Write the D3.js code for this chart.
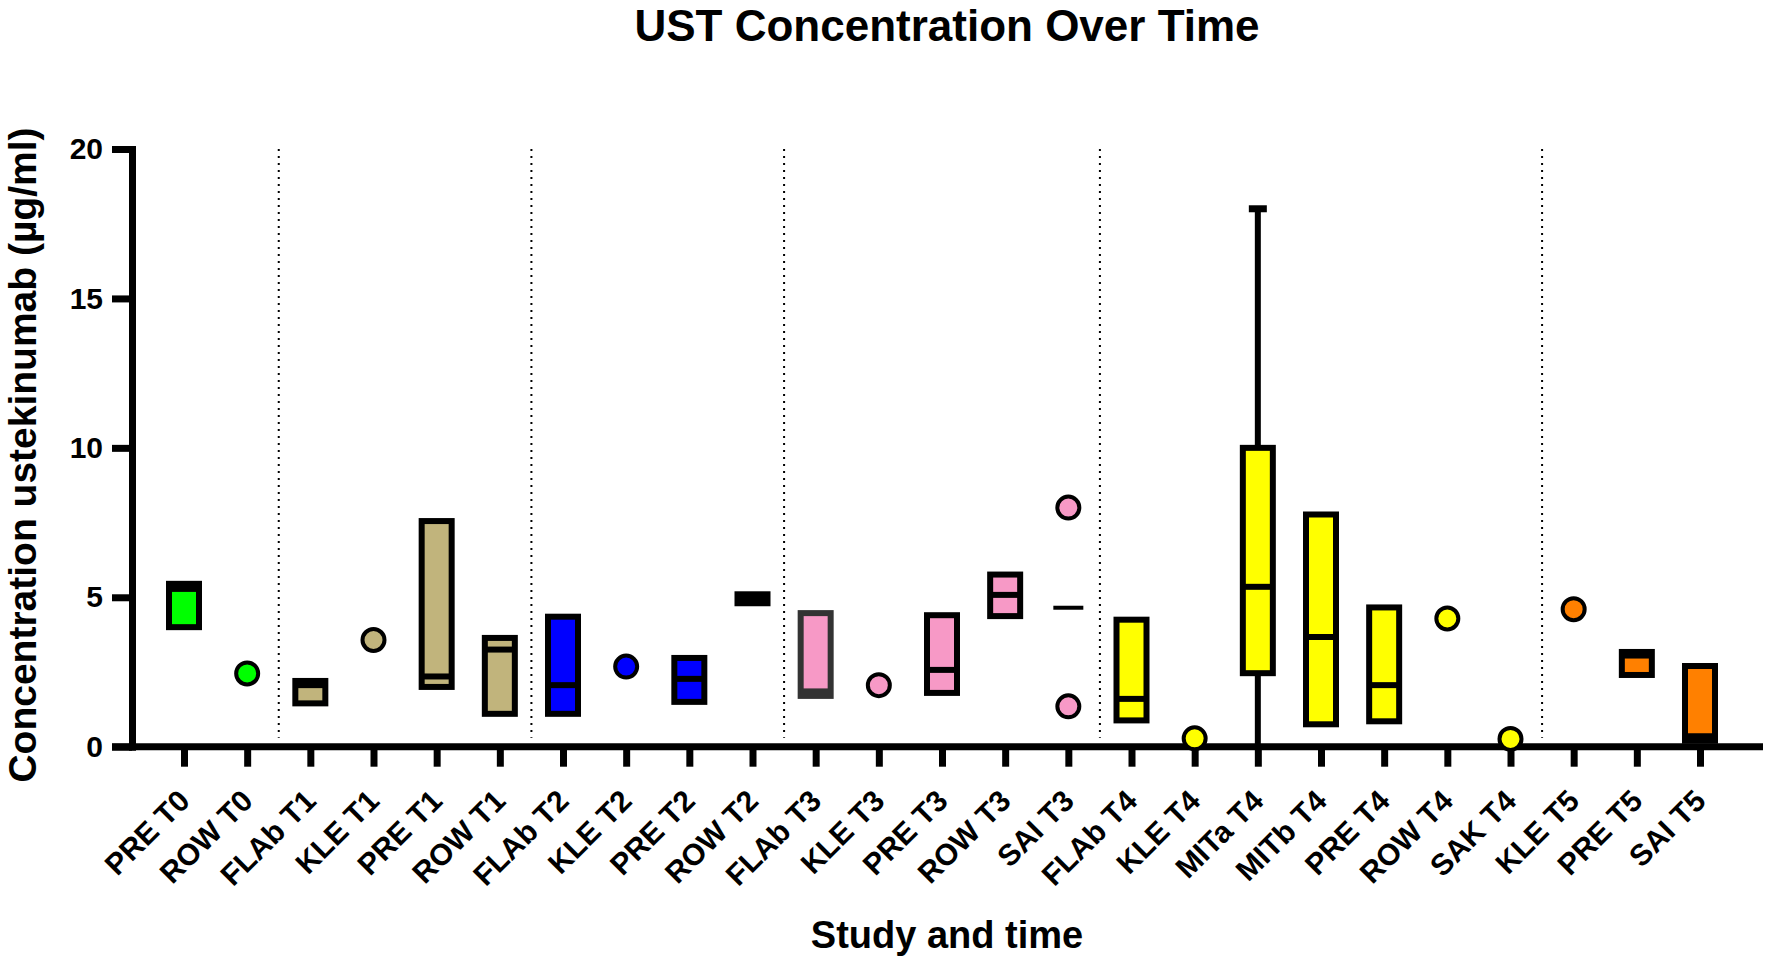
<!DOCTYPE html>
<html>
<head>
<meta charset="utf-8">
<script src="https://cdn.jsdelivr.net/npm/d3@7"></script>
<style>
  body { margin: 0; background: #fff; }
  svg { display: block; font-family: "Liberation Sans", Arial, Helvetica, sans-serif; }
</style>
</head>
<body>
<div id="chart"></div>
<script>
// categories (study + time point)
const categories = ["PRE T0", "ROW T0", "FLAb T1", "KLE T1", "PRE T1", "ROW T1", "FLAb T2", "KLE T2",
    "PRE T2", "ROW T2", "FLAb T3", "KLE T3", "PRE T3", "ROW T3", "SAI T3", "FLAb T4", "KLE T4",
    "MITa T4", "MITb T4", "PRE T4", "ROW T4", "SAK T4", "KLE T5", "PRE T5", "SAI T5"];

// box values (null = no box)
const lowValues    = [4.0, null, 1.45, null, 2.0, 1.1, 1.1, null, 1.5, 4.8, 1.7, null, 1.8, 4.37, null, 0.88, null, 0.0, 0.75, 0.85, null, null, null, 2.4, 0.2];
const q1Values     = [4.0, null, 1.45, null, 2.0, 1.1, 1.1, null, 1.5, 4.8, 1.7, null, 1.8, 4.37, null, 0.88, null, 2.46, 0.75, 0.85, null, null, null, 2.4, 0.2];
const medianValues = [5.28, null, 2.06, null, 2.35, 3.25, 2.06, null, 2.27, 4.95, 1.85, null, 2.57, 5.08, 4.65, 1.6, null, 5.35, 3.67, 2.06, null, null, null, 3.05, 0.35];
const q3Values     = [5.45, null, 2.2, null, 7.55, 3.64, 4.35, null, 2.97, 5.1, 4.47, null, 4.4, 5.76, null, 4.25, null, 10.0, 7.77, 4.66, null, null, null, 3.17, 2.7];
const highValues   = [5.45, null, 2.2, null, 7.55, 3.64, 4.35, null, 2.97, 5.1, 4.47, null, 4.4, 5.76, null, 4.25, null, 18.0, 7.77, 4.66, null, null, null, 3.17, 2.7];

// single measurements drawn as dots
const pointValues = [[], [2.45], [], [3.57], [], [], [], [2.68], [], [], [], [2.06], [], [], [8.0, 1.35],
    [], [0.28], [], [], [], [4.29], [0.26], [4.6], [], []];

// colour per time point
const timePoints = ["T0", "T1", "T2", "T3", "T4", "T5"];
const timeColors = ["#00ff00", "#c1b47c", "#0000ff", "#f799c6", "#ffff00", "#ff8000"];

const yTicks = [0, 5, 10, 15, 20];

const width = 1770, height = 966;

const svg = d3.select("#chart").append("svg")
    .attr("width", width)
    .attr("height", height);

const x = d3.scalePoint()
    .domain(categories)
    .range([184, 1700]);

const y = d3.scaleLinear()
    .domain([0, 20])
    .range([746.7, 149]);

const color = d3.scaleOrdinal().domain(timePoints).range(timeColors);
const timeOf = c => c.split(" ")[1];

// title
svg.append("text")
    .attr("x", 947)
    .attr("y", 41)
    .attr("text-anchor", "middle")
    .style("font-size", "44px")
    .style("font-weight", "bold")
    .text("UST Concentration Over Time");

// dotted separators between time points
const seps = [];
categories.forEach((c, i) => {
    if (i > 0 && timeOf(c) !== timeOf(categories[i - 1])) seps.push((x(c) + x(categories[i - 1])) / 2);
});
svg.selectAll(".sep")
    .data(seps)
    .enter().append("line")
    .attr("class", "sep")
    .attr("x1", d => d).attr("x2", d => d)
    .attr("y1", y(20)).attr("y2", y(0.3))
    .attr("stroke", "#000")
    .attr("stroke-width", 2)
    .attr("stroke-dasharray", "2,5");

// y axis
const yAxis = svg.append("g")
    .attr("transform", `translate(${132},0)`)
    .call(d3.axisLeft(y).tickValues(yTicks).tickSize(20).tickSizeOuter(0).tickPadding(9));
yAxis.select(".domain").attr("stroke-width", 7).attr("stroke-linecap", "square");
yAxis.selectAll(".tick line").attr("stroke-width", 7);
yAxis.selectAll(".tick text")
    .style("font-size", "30px")
    .style("font-weight", "bold")
    .attr("fill", "#000");

// x axis
const xAxis = svg.append("g")
    .attr("transform", `translate(0,${y(0)})`)
    .call(d3.axisBottom(x).tickSize(20).tickSizeOuter(0));
xAxis.select(".domain").remove();
xAxis.append("line")
    .attr("x1", 112).attr("x2", 1763)
    .attr("stroke", "#000")
    .attr("stroke-width", 7);
xAxis.selectAll(".tick line").attr("stroke-width", 7);
xAxis.selectAll(".tick text")
    .attr("y", 0).attr("dy", 0)
    .attr("text-anchor", "end")
    .attr("transform", "translate(7,56) rotate(-45)")
    .attr("fill", "#000")
    .style("font-size", "30px")
    .style("font-weight", "bold");

// y axis title
svg.append("text")
    .attr("transform", "translate(36,455) rotate(-90)")
    .attr("text-anchor", "middle")
    .style("font-size", "39px")
    .style("font-weight", "bold")
    .text("Concentration ustekinumab (\u00b5g/ml)");

// x axis title
svg.append("text")
    .attr("x", 947)
    .attr("y", 948)
    .attr("text-anchor", "middle")
    .style("font-size", "38px")
    .style("font-weight", "bold")
    .text("Study and time");

const boxW = 30;

const rows = categories.map((c, i) => ({
    name: c, low: lowValues[i], q1: q1Values[i], median: medianValues[i],
    q3: q3Values[i], high: highValues[i], points: pointValues[i]
}));

const g = svg.selectAll(".cat")
    .data(rows)
    .enter().append("g")
    .attr("class", "cat")
    .attr("transform", d => `translate(${x(d.name)},0)`);

// whiskers
const withBox = g.filter(d => d.q1 !== null);
withBox.filter(d => d.high > d.q3).append("line")
    .attr("y1", d => y(d.q3)).attr("y2", d => y(d.high))
    .attr("stroke", "#000").attr("stroke-width", 6);
withBox.filter(d => d.high > d.q3).append("line")
    .attr("x1", -9).attr("x2", 9)
    .attr("y1", d => y(d.high)).attr("y2", d => y(d.high))
    .attr("stroke", "#000").attr("stroke-width", 7);
withBox.filter(d => d.low < d.q1).append("line")
    .attr("y1", d => y(d.q1)).attr("y2", d => y(d.low))
    .attr("stroke", "#000").attr("stroke-width", 6);

// boxes
withBox.append("rect")
    .attr("x", -boxW / 2)
    .attr("width", boxW)
    .attr("y", d => y(d.q3))
    .attr("height", d => y(d.q1) - y(d.q3))
    .attr("fill", d => color(timeOf(d.name)))
    .attr("stroke", d => d.name === "FLAb T3" ? "#333" : "#000")
    .attr("stroke-width", 6);

// median lines
g.filter(d => d.median !== null).append("line")
    .attr("x1", -boxW / 2).attr("x2", boxW / 2)
    .attr("y1", d => y(d.median)).attr("y2", d => y(d.median))
    .attr("stroke", d => d.name === "FLAb T3" ? "#333" : "#000")
    .attr("stroke-width", d => d.q1 === null ? 4 : 6);

// individual points
g.selectAll("circle")
    .data(d => d.points.map(v => ({ v, name: d.name })))
    .enter().append("circle")
    .attr("cy", d => y(d.v))
    .attr("r", 11)
    .attr("fill", d => color(timeOf(d.name)))
    .attr("stroke", "#000")
    .attr("stroke-width", 4);
</script>
</body>
</html>
